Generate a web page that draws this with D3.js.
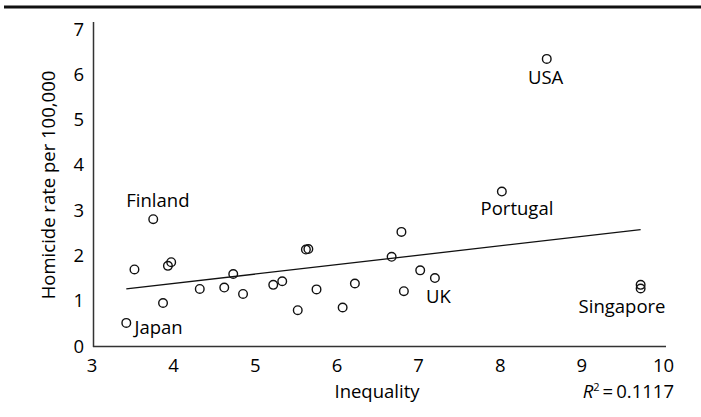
<!DOCTYPE html>
<html>
<head>
<meta charset="utf-8">
<script src="https://cdn.jsdelivr.net/npm/d3@7"></script>
<style>
  body { margin: 0; background: #fff; }
  text { font-family: "Open Sans", "Noto Sans", sans-serif; fill: #000; }
</style>
</head>
<body>
<script>
// 数据：不平等指数 与 每十万人凶杀率
var inequality = [3.42, 3.52, 3.75, 3.87, 3.93, 3.97, 4.32, 4.62, 4.73, 4.85, 5.22, 5.33,
    5.52, 5.62, 5.65, 5.75, 6.07, 6.22, 6.67, 6.79, 6.82, 7.02, 7.20, 8.02, 8.57, 9.72, 9.72];
var homicide = [0.51, 1.69, 2.80, 0.95, 1.77, 1.85, 1.26, 1.29, 1.59, 1.15, 1.35, 1.43,
    0.79, 2.13, 2.14, 1.25, 0.85, 1.38, 1.97, 2.52, 1.21, 1.67, 1.50, 3.41, 6.34, 1.35, 1.27];

// 国家标注（左下角位置，数据坐标）
var labelNames = ["Japan", "Finland", "UK", "Portugal", "USA", "Singapore"];
var labelX = [3.52, 3.42, 7.09, 7.76, 8.34, 8.96];
var labelY = [0.265, 3.07, 0.94, 2.89, 5.78, 0.735];

// 趋势线（两端点）
var trendX = [3.42, 9.72];
var trendY = [1.26, 2.57];

var xTicks = [3, 4, 5, 6, 7, 8, 9, 10];
var yTicks = [0, 1, 2, 3, 4, 5, 6, 7];

var width = 701, height = 417;
var fs = "18.5px";

var svg = d3.select("body").append("svg")
    .attr("width", width)
    .attr("height", height);

// 顶部粗线
svg.append("line")
    .attr("x1", 4).attr("x2", 701)
    .attr("y1", 7).attr("y2", 7)
    .attr("stroke", "#111")
    .attr("stroke-width", 3);

var x = d3.scaleLinear().domain([3, 10]).range([92, 663.5]);
var y = d3.scaleLinear().domain([0, 7]).range([346, 29]);

// 坐标轴线
svg.append("line")
    .attr("x1", 93.5).attr("x2", 93.5)
    .attr("y1", 22).attr("y2", 347)
    .attr("stroke", "#333").attr("stroke-width", 1.5);
svg.append("line")
    .attr("x1", 93).attr("x2", 666)
    .attr("y1", 346.5).attr("y2", 346.5)
    .attr("stroke", "#333").attr("stroke-width", 1.5);

// 刻度标签
svg.selectAll(".xt")
    .data(xTicks)
    .enter()
    .append("text")
    .attr("class", "xt")
    .attr("x", function (d) { return x(d); })
    .attr("y", 372)
    .attr("text-anchor", "middle")
    .attr("font-size", fs)
    .text(function (d) { return d; });

svg.selectAll(".yt")
    .data(yTicks)
    .enter()
    .append("text")
    .attr("class", "yt")
    .attr("x", 84)
    .attr("y", function (d) { return y(d) + 6.5; })
    .attr("text-anchor", "end")
    .attr("font-size", fs)
    .text(function (d) { return d; });

// 坐标轴标题
svg.append("text")
    .attr("x", 377)
    .attr("y", 398)
    .attr("text-anchor", "middle")
    .attr("font-size", fs)
    .text("Inequality");

svg.append("text")
    .attr("transform", "translate(55,185) rotate(-90)")
    .attr("text-anchor", "middle")
    .attr("font-size", fs)
    .text("Homicide rate per 100,000");

// R²
var r2 = svg.append("text")
    .attr("x", 674)
    .attr("y", 398)
    .attr("text-anchor", "end")
    .attr("font-size", fs);
r2.append("tspan").attr("font-style", "italic").text("R");
r2.append("tspan").attr("font-size", "11px").attr("dy", -7).text("2");
r2.append("tspan").attr("dy", 7).text("\u2009=\u20090.1117");

// 趋势线
svg.append("line")
    .attr("x1", x(trendX[0])).attr("y1", y(trendY[0]))
    .attr("x2", x(trendX[1])).attr("y2", y(trendY[1]))
    .attr("stroke", "#111")
    .attr("stroke-width", 1.3);

// 散点
svg.selectAll("circle")
    .data(inequality)
    .enter()
    .append("circle")
    .attr("cx", function (d) { return x(d); })
    .attr("cy", function (d, i) { return y(homicide[i]); })
    .attr("r", 4.3)
    .attr("fill", "none")
    .attr("stroke", "#111")
    .attr("stroke-width", 1.4);

// 国家标签
svg.selectAll(".lab")
    .data(labelNames)
    .enter()
    .append("text")
    .attr("class", "lab")
    .attr("x", function (d, i) { return x(labelX[i]); })
    .attr("y", function (d, i) { return y(labelY[i]); })
    .attr("font-size", fs)
    .text(function (d) { return d; });
</script>
</body>
</html>
